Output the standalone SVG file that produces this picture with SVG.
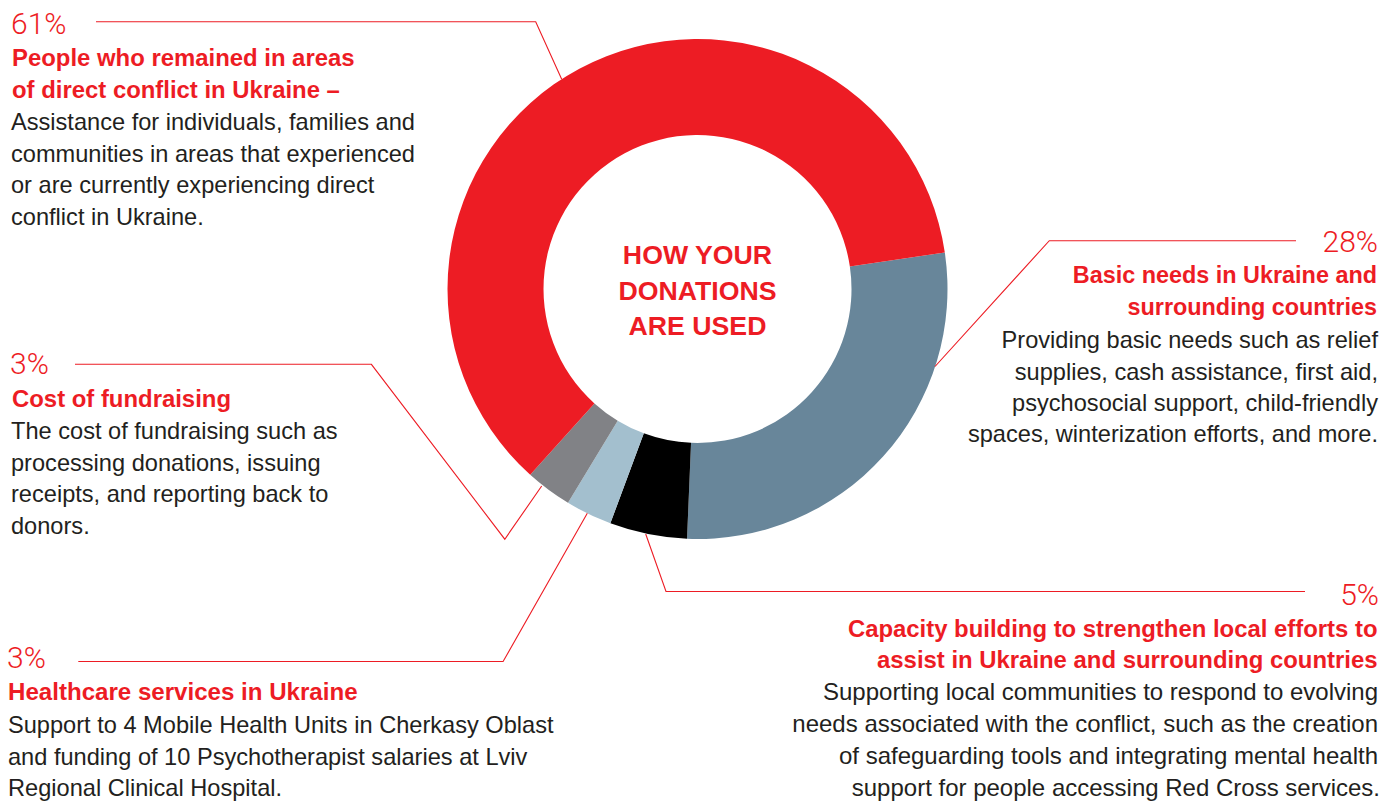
<svg xmlns="http://www.w3.org/2000/svg" width="1397" height="801" viewBox="0 0 1397 801">
<style>
.pct{font-family:Roboto,"Liberation Sans",sans-serif;font-weight:300;font-size:30px;fill:#ED1C24}
.ttl{font-family:"Liberation Sans",Arial,sans-serif;font-weight:bold;font-size:23.9px;fill:#ED1C24}
.bdy{font-family:"Liberation Sans",Arial,sans-serif;font-size:23.6px;fill:#231F20}
.bdy2{font-size:24px}
.ctr{font-family:"Liberation Sans",Arial,sans-serif;font-weight:bold;font-size:26.7px;fill:#ED1C24}
.r{text-anchor:end}
.ln{fill:none;stroke:#ED1C24;stroke-width:1.1}
</style>
<rect width="1397" height="801" fill="#FFFFFF"/>
<g id="donut">
<path d="M 944.82 252.48 A 250 250 0 0 1 687.03 538.78 L 691.05 442.86 A 154 154 0 0 0 849.85 266.50 Z" fill="#68869A"/>
<path d="M 687.03 538.78 A 250 250 0 0 1 610.36 523.32 L 643.82 433.34 A 154 154 0 0 0 691.05 442.86 Z" fill="#000000"/>
<path d="M 610.36 523.32 A 250 250 0 0 1 567.99 502.84 L 617.72 420.73 A 154 154 0 0 0 643.82 433.34 Z" fill="#A3BFCE"/>
<path d="M 567.99 502.84 A 250 250 0 0 1 530.22 474.79 L 594.45 403.44 A 154 154 0 0 0 617.72 420.73 Z" fill="#818286"/>
<path d="M 530.22 474.79 A 250 250 0 1 1 944.82 252.48 L 849.85 266.50 A 154 154 0 1 0 594.45 403.44 Z" fill="#ED1C24"/>
<text class="ctr" text-anchor="middle"><tspan x="697.5" y="264">HOW YOUR</tspan><tspan x="697.5" y="300">DONATIONS</tspan><tspan x="697.5" y="335">ARE USED</tspan></text>
</g>
<g id="connectors">
<polyline class="ln" points="96,21.7 535.7,21.7 561.7,79.2"/>
<polyline class="ln" points="1296,240.7 1049.3,240.7 935,366.5"/>
<polyline class="ln" points="75,364.3 371.4,364.3 504.8,539.2 541.7,486"/>
<polyline class="ln" points="78.3,661.5 503.1,661.5 587.3,513.3"/>
<polyline class="ln" points="1305,591.5 666,591.5 645.7,534"/>
</g>
<g id="label-61">
<text class="pct" x="11" y="34">61%</text>
<text class="ttl"><tspan x="12" y="66">People who remained in areas</tspan><tspan x="12" y="97.5">of direct conflict in Ukraine –</tspan></text>
<text class="bdy"><tspan x="11" y="130">Assistance for individuals, families and</tspan><tspan x="11" y="161.5">communities in areas that experienced</tspan><tspan x="11" y="193">or are currently experiencing direct</tspan><tspan x="11" y="224.5">conflict in Ukraine.</tspan></text>
</g>
<g id="label-28">
<text class="pct r" x="1378" y="251.7">28%</text>
<text class="ttl r" style="font-size:23.4px"><tspan x="1377" y="283.3">Basic needs in Ukraine and</tspan><tspan x="1377" y="315">surrounding countries</tspan></text>
<text class="bdy r"><tspan x="1378" y="348">Providing basic needs such as relief</tspan><tspan x="1378" y="379.5">supplies, cash assistance, first aid,</tspan><tspan x="1378" y="411.3">psychosocial support, child-friendly</tspan><tspan x="1378" y="442">spaces, winterization efforts, and more.</tspan></text>
</g>
<g id="label-3-fundraising">
<text class="pct" x="10" y="374.3">3%</text>
<text class="ttl" x="12" y="406.5">Cost of fundraising</text>
<text class="bdy"><tspan x="11" y="439">The cost of fundraising such as</tspan><tspan x="11" y="470.7">processing donations, issuing</tspan><tspan x="11" y="502.3">receipts, and reporting back to</tspan><tspan x="11" y="534">donors.</tspan></text>
</g>
<g id="label-3-healthcare">
<text class="pct" x="7" y="668.3">3%</text>
<text class="ttl" x="8" y="700" style="font-size:24.1px">Healthcare services in Ukraine</text>
<text class="bdy"><tspan x="8" y="733">Support to 4 Mobile Health Units in Cherkasy Oblast</tspan><tspan x="8" y="764.7">and funding of 10 Psychotherapist salaries at Lviv</tspan><tspan x="8" y="796">Regional Clinical Hospital.</tspan></text>
</g>
<g id="label-5">
<text class="pct r" x="1379" y="605">5%</text>
<text class="ttl r"><tspan x="1377.5" y="636.7">Capacity building to strengthen local efforts to</tspan><tspan x="1377.5" y="668.3">assist in Ukraine and surrounding countries</tspan></text>
<text class="bdy bdy2 r"><tspan x="1378" y="700">Supporting local communities to respond to evolving</tspan><tspan x="1378" y="732.3">needs associated with the conflict, such as the creation</tspan><tspan x="1378" y="764.3">of safeguarding tools and integrating mental health</tspan><tspan x="1380" y="796">support for people accessing Red Cross services.</tspan></text>
</g>
</svg>
